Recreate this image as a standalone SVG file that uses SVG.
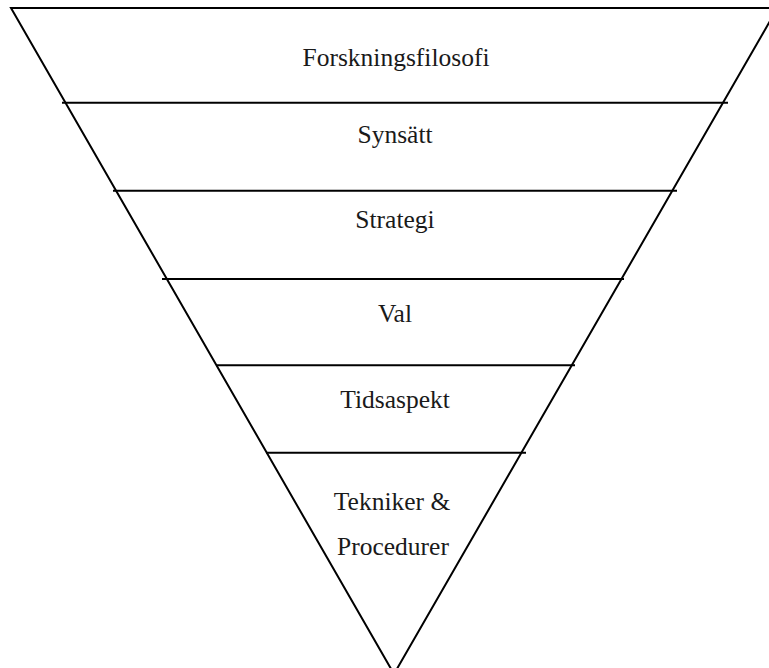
<svg xmlns="http://www.w3.org/2000/svg" width="769" height="668" viewBox="0 0 769 668">
<style>
.ln{stroke:#000;stroke-width:2;fill:none;stroke-linecap:butt}
.t{font-size:25.5px;fill:#1a1a1a;text-anchor:middle}
</style>
<rect width="769" height="668" fill="#fff"/>
<g id="connectors">
<polyline class="ln" points="780,8 11,8 394,674 781,2"/>
<line class="ln" x1="62" y1="102.7" x2="728" y2="102.7"/>
<line class="ln" x1="113" y1="190.7" x2="677" y2="190.7"/>
<line class="ln" x1="162" y1="279" x2="624" y2="279"/>
<line class="ln" x1="216" y1="365.3" x2="575" y2="365.3"/>
<line class="ln" x1="266" y1="452.7" x2="526" y2="452.7"/>
</g>
<g font-family="'Liberation Serif', 'DejaVu Serif', serif">
<g id="n1"><text class="t" x="396" y="66">Forskningsfilosofi</text></g>
<g id="n2"><text class="t" x="395" y="143.3">Synsätt</text></g>
<g id="n3"><text class="t" x="395" y="228.3">Strategi</text></g>
<g id="n4"><text class="t" x="395" y="321.7">Val</text></g>
<g id="n5"><text class="t" x="395" y="408.3">Tidsaspekt</text></g>
<g id="n6"><text class="t" x="392" y="510">Tekniker &amp;</text><text class="t" x="393" y="555">Procedurer</text></g>
</g>
</svg>
